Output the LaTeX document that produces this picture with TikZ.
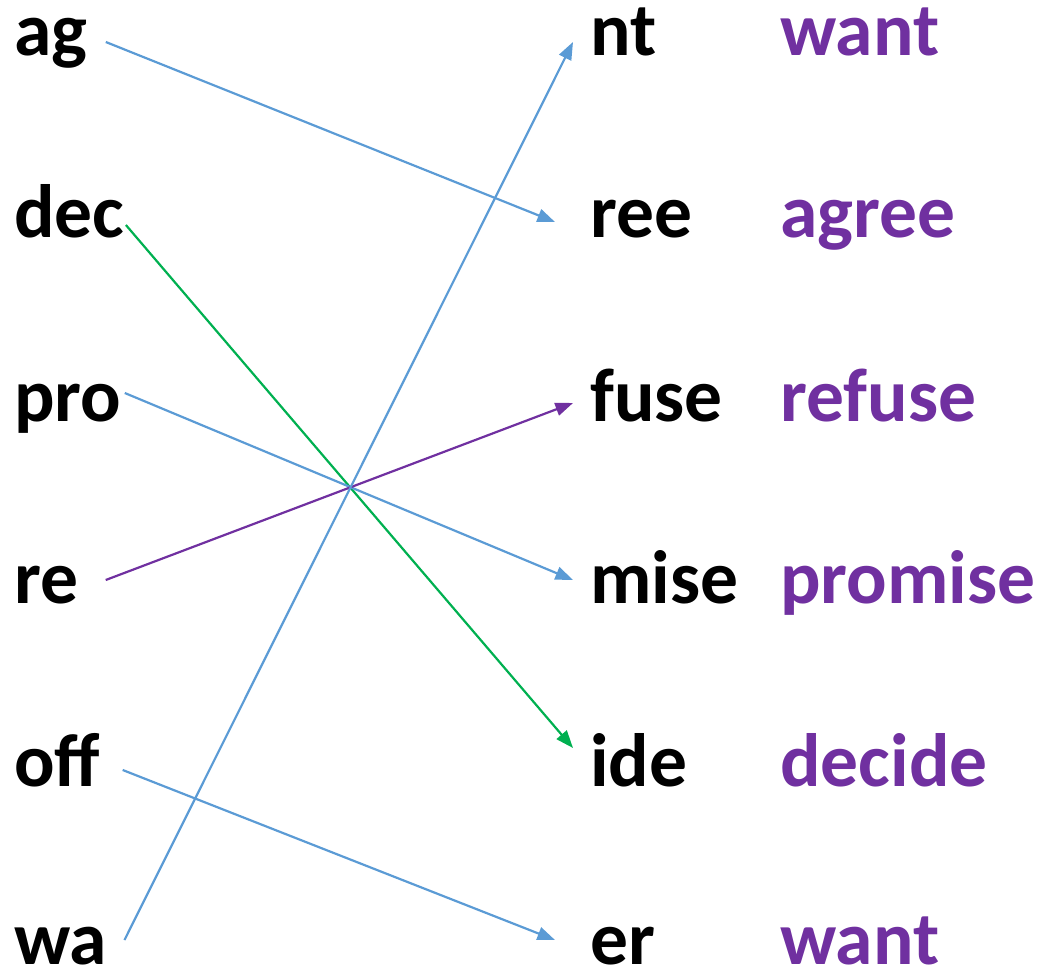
\documentclass[tikz,border=0pt]{standalone}
\usepackage{fontspec}
\setmainfont{Carlito}
\usepackage{tikz}
\usetikzlibrary{arrows.meta, positioning}

\definecolor{linkblue}{HTML}{5B9BD5}
\definecolor{linkgreen}{HTML}{00B050}
\definecolor{wordpurple}{HTML}{7030A0}

\begin{document}
\begin{tikzpicture}
            [x=0.02cm, y=-0.02cm, >={Triangle[length=10pt,width=7.5pt]},
            part/.style={anchor=base west, inner sep=0pt, font=\fontsize{43}{51}\selectfont\bfseries},
            whole/.style={part, text=wordpurple},
            link/.style={->, line width=1.25pt, draw=#1, fill=#1}]

            \useasboundingbox (0,0) rectangle (1049,973);

            % left column
            \node[part] (ag) at (14,56) {ag};
            \node[part] (dec) at (14,238) {dec};
            \node[part] (pro) at (14,421) {pro};
            \node[part] (re) at (14,603) {re};
            \node[part] (off) at (14,786) {off};
            \node[part] (wa) at (14,964) {wa};

            % right column
            \node[part] (nt) at (590,56) {nt};
            \node[part] (ree) at (590,238) {ree};
            \node[part] (fuse) at (590,421) {fuse};
            \node[part] (mise) at (590,603) {mise};
            \node[part] (ide) at (590,786) {ide};
            \node[part] (er) at (590,964) {er};

            % whole words
            \node[whole] (w1) at (780,56) {want};
            \node[whole] (w2) at (780,238) {agree};
            \node[whole] (w3) at (780,421) {refuse};
            \node[whole] (w4) at (780,603) {promise};
            \node[whole] (w5) at (780,786) {decide};
            \node[whole] (w6) at (780,964) {want};

            \draw[link=linkblue] ([shift={(18,-14)}]ag.base east) -- ([shift={(-35,-16)}]ree.base west);
            \draw[link=linkgreen] ([shift={(1,-13)}]dec.base east) -- ([shift={(-17,-38)}]ide.base west);
            \draw[link=linkblue] ([shift={(3,-28)}]pro.base east) -- ([shift={(-17,-23)}]mise.base west);
            \draw[link=wordpurple] ([shift={(27,-23)}]re.base east) -- ([shift={(-17,-18)}]fuse.base west);
            \draw[link=linkblue] ([shift={(22,-16)}]off.base east) -- ([shift={(-35,-24)}]er.base west);
            \draw[link=linkblue] ([shift={(17,-24)}]wa.base east) -- ([shift={(-17,-14)}]nt.base west);

        \end{tikzpicture}
\end{document}
